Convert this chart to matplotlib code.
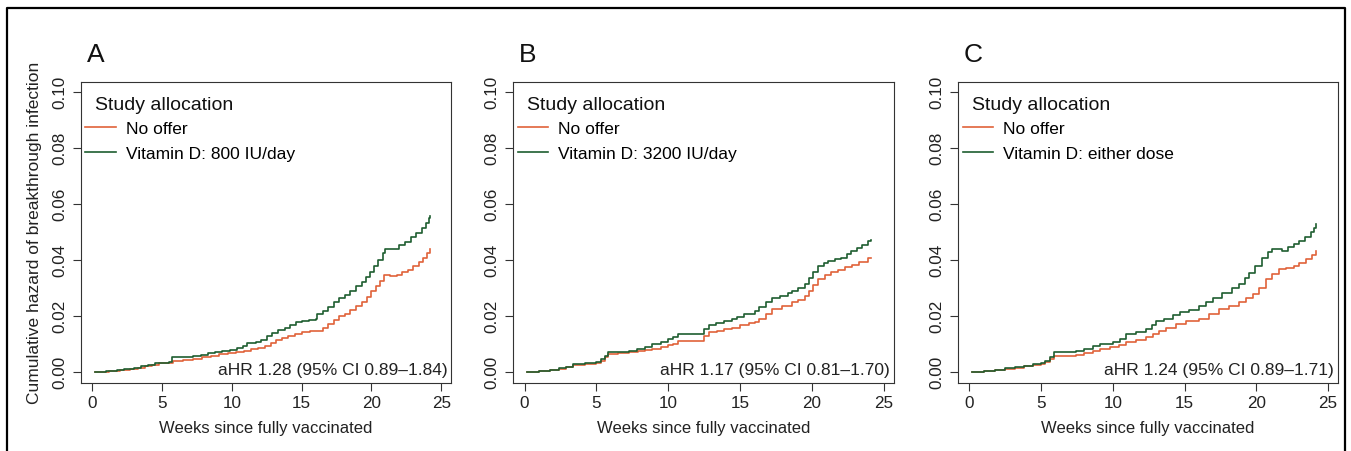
import matplotlib
matplotlib.use("Agg")
import matplotlib.pyplot as plt
from matplotlib.lines import Line2D

plt.rcParams['font.family'] = ['Liberation Sans', 'DejaVu Sans']

# panel A: 800 IU/day vs no offer (weeks, cumulative hazard)
wk_a_no = [0.2, 1.2, 2.0, 2.7, 3.3, 3.8, 4.3, 4.8, 5.3, 5.8, 6.5, 7.2, 7.9, 8.5, 9.1, 9.7, 10.3,
           10.9, 11.4, 11.9, 12.4, 12.8, 13.2, 13.6, 14.0, 14.5, 15.0, 15.6, 16.2, 16.5, 16.9,
           17.3, 17.7, 18.1, 18.5, 18.9, 19.3, 19.7, 20.0, 20.3, 20.6, 20.9, 21.3, 21.8, 22.2,
           22.6, 23.0, 23.4, 23.7, 24.0, 24.2]
ch_a_no = [0, 0.0003, 0.0006, 0.001, 0.0015, 0.0021, 0.0026, 0.003, 0.0032, 0.0037, 0.0042,
           0.0047, 0.0052, 0.0057, 0.0062, 0.0066, 0.007, 0.0075, 0.0082, 0.0086, 0.0092, 0.0102,
           0.0112, 0.012, 0.0128, 0.0136, 0.0142, 0.0146, 0.0147, 0.0158, 0.0172, 0.0185, 0.0198,
           0.0208, 0.0222, 0.0235, 0.025, 0.0268, 0.0288, 0.0305, 0.0325, 0.0345, 0.0342, 0.0345,
           0.0355, 0.0365, 0.0378, 0.0392, 0.0405, 0.0425, 0.044]
wk_a_vd = [0.2, 1.0, 1.8, 2.3, 3.0, 3.5, 4.0, 4.5, 5.0, 5.5, 5.7, 6.5, 7.2, 7.8, 8.3, 8.8, 9.3, 9.9,
           10.4, 10.8, 11.1, 11.7, 12.1, 12.5, 12.9, 13.3, 13.8, 14.2, 14.6, 15.0, 15.5, 16.0,
           16.1, 16.5, 16.9, 17.3, 17.7, 18.1, 18.5, 18.9, 19.3, 19.6, 19.9, 20.2, 20.5, 20.8,
           21.0, 21.7, 22.0, 22.4, 22.8, 23.2, 23.6, 23.9, 24.1, 24.2]
ch_a_vd = [0, 0.0002, 0.0006, 0.001, 0.0012, 0.0019, 0.0025, 0.003, 0.0032, 0.0035, 0.0052,
           0.0054, 0.0057, 0.006, 0.0066, 0.0072, 0.0076, 0.0079, 0.0084, 0.0093, 0.0103, 0.0106,
           0.0115, 0.0127, 0.0138, 0.0148, 0.0158, 0.0168, 0.0178, 0.0182, 0.0186, 0.0188, 0.0205,
           0.0218, 0.0232, 0.0248, 0.0262, 0.0275, 0.0288, 0.0305, 0.0322, 0.0338, 0.0358, 0.0378,
           0.0398, 0.0425, 0.0438, 0.044, 0.0452, 0.0465, 0.0482, 0.0495, 0.0512, 0.053, 0.0548,
           0.0555]

# panel B: 3200 IU/day vs no offer
wk_b_no = [0.2, 1.0, 1.8, 2.4, 2.9, 3.4, 4.2, 5.0, 5.3, 5.6, 5.8, 6.5, 7.3, 7.9, 8.4, 8.9, 9.5,
           10.0, 10.3, 10.7, 12.1, 12.5, 12.8, 13.4, 13.9, 14.4, 15.0, 15.6, 16.0, 16.3, 16.8,
           17.2, 17.9, 18.6, 19.0, 19.5, 19.8, 20.1, 20.4, 20.9, 21.3, 21.8, 22.3, 22.8, 23.3,
           23.9, 24.1]
ch_b_no = [0, 0.0003, 0.0006, 0.001, 0.0016, 0.0024, 0.0027, 0.0031, 0.004, 0.0053, 0.0063,
           0.0066, 0.0069, 0.0074, 0.0078, 0.0081, 0.0089, 0.0095, 0.0099, 0.011, 0.011, 0.0128,
           0.0141, 0.0147, 0.0152, 0.0158, 0.0168, 0.0176, 0.0178, 0.0188, 0.0208, 0.0224, 0.0236,
           0.0248, 0.0258, 0.0271, 0.029, 0.031, 0.0331, 0.0345, 0.0355, 0.0362, 0.0373, 0.0382,
           0.0392, 0.0405, 0.0408]
wk_b_vd = [0.2, 1.0, 1.8, 2.4, 2.9, 3.4, 4.2, 5.0, 5.3, 5.6, 5.8, 6.5, 7.3, 7.8, 8.4, 8.9, 9.5,
           10.0, 10.3, 10.7, 12.1, 12.5, 12.8, 13.3, 13.9, 14.4, 14.8, 15.3, 15.7, 16.0, 16.3,
           16.8, 17.2, 17.8, 18.3, 18.6, 19.0, 19.5, 19.8, 20.1, 20.4, 20.8, 21.1, 21.6, 22.0,
           22.4, 22.7, 23.1, 23.5, 23.9, 24.1]
ch_b_vd = [0, 0.0003, 0.0007, 0.0012, 0.0018, 0.0028, 0.003, 0.0034, 0.0045, 0.0058, 0.0069,
           0.0071, 0.0075, 0.0082, 0.009, 0.0099, 0.0108, 0.0116, 0.0123, 0.0135, 0.0135, 0.0152,
           0.0168, 0.0175, 0.0181, 0.0188, 0.0196, 0.0206, 0.0208, 0.0218, 0.023, 0.0248, 0.0265,
           0.0272, 0.028, 0.0289, 0.03, 0.0313, 0.0335, 0.0358, 0.0378, 0.039, 0.0396, 0.0402,
           0.0408, 0.0422, 0.0432, 0.0442, 0.0452, 0.0467, 0.047]

# panel C: either dose vs no offer
wk_c_no = [0.2, 1.0, 1.8, 2.5, 3.2, 3.8, 4.4, 5.0, 5.3, 5.6, 5.9, 6.7, 7.4, 8.0, 8.6, 9.1, 9.8,
           10.4, 10.9, 11.6, 12.3, 12.8, 13.2, 13.7, 14.4, 15.1, 16.0, 16.7, 17.4, 18.1, 18.8,
           19.3, 19.8, 20.2, 20.7, 21.1, 21.6, 22.1, 22.6, 23.0, 23.5, 23.9, 24.2]
ch_c_no = [0, 0.0003, 0.0006, 0.001, 0.0015, 0.0019, 0.0024, 0.0029, 0.0035, 0.0046, 0.0057,
           0.0058, 0.006, 0.0067, 0.0074, 0.008, 0.0088, 0.0097, 0.0105, 0.0114, 0.0123, 0.0135,
           0.0146, 0.0158, 0.017, 0.0182, 0.0188, 0.0206, 0.0224, 0.0236, 0.0248, 0.0262, 0.0277,
           0.03, 0.033, 0.035, 0.0366, 0.0372, 0.0378, 0.0388, 0.0402, 0.0418, 0.0432]
wk_c_vd = [0.2, 1.0, 1.8, 2.5, 3.2, 3.8, 4.4, 5.0, 5.3, 5.6, 5.9, 6.7, 7.4, 8.0, 8.6, 9.1, 10.0,
           10.5, 10.9, 11.6, 12.3, 12.7, 13.0, 13.6, 14.2, 14.7, 15.3, 16.0, 16.5, 17.0, 17.6,
           18.3, 18.8, 19.2, 19.5, 19.9, 20.4, 20.8, 21.1, 21.8, 22.2, 22.6, 23.0, 23.4, 23.8,
           24.0, 24.2]
ch_c_vd = [0, 0.0003, 0.0007, 0.0012, 0.0017, 0.0021, 0.0027, 0.0033, 0.0039, 0.0052, 0.0069,
           0.0071, 0.0075, 0.0083, 0.0092, 0.0099, 0.0105, 0.0118, 0.0135, 0.0142, 0.0152, 0.0168,
           0.0182, 0.019, 0.0202, 0.0212, 0.022, 0.0236, 0.025, 0.0265, 0.0282, 0.0301, 0.0313,
           0.0335, 0.0354, 0.0378, 0.0408, 0.0428, 0.0438, 0.0432, 0.0445, 0.0456, 0.0468, 0.048,
           0.0498, 0.0512, 0.0527]

panel_letters = ['A', 'B', 'C']
vd_labels = ['Vitamin D: 800 IU/day', 'Vitamin D: 3200 IU/day', 'Vitamin D: either dose']
ahr_texts = ['aHR 1.28 (95% CI 0.89\u20131.84)', 'aHR 1.17 (95% CI 0.81\u20131.70)',
             'aHR 1.24 (95% CI 0.89\u20131.71)']
x_ticks = [0, 5, 10, 15, 20, 25]
y_ticks = [0.00, 0.02, 0.04, 0.06, 0.08, 0.10]

col_no = '#e0623a'
col_vd = '#1e5e30'

W, H = 1351, 452
fig = plt.figure(figsize=(W / 100, H / 100), dpi=100)

# pixel boxes of the three panels (left, right)
boxes = [(81, 451), (513, 894), (958, 1338)]
top, bottom = 83, 384

series = [(wk_a_no, ch_a_no, wk_a_vd, ch_a_vd),
          (wk_b_no, ch_b_no, wk_b_vd, ch_b_vd),
          (wk_c_no, ch_c_no, wk_c_vd, ch_c_vd)]

for i, (l, r) in enumerate(boxes):
    ax = fig.add_axes([l / W, 1 - bottom / H, (r - l) / W, (bottom - top) / H])
    wn, cn, wv, cv = series[i]
    ln1, = ax.plot(wn, cn, drawstyle='steps-post', color=col_no, lw=1.2)
    ln2, = ax.plot(wv, cv, drawstyle='steps-post', color=col_vd, lw=1.2)
    ax.set_xlim(-0.8, 25.7)
    ax.set_ylim(-0.004, 0.1035)
    ax.set_xticks(x_ticks)
    ax.set_yticks(y_ticks)
    ax.set_yticklabels(['%.2f' % v for v in y_ticks])
    ax.tick_params(direction='out', length=5.5, width=0.8, color='#333333',
                   labelsize=12.3, labelcolor='#222222')
    ax.tick_params(axis='x', pad=3)
    ax.tick_params(axis='y', pad=4)
    for lbl in ax.get_yticklabels():
        lbl.set_rotation(90)
        lbl.set_va('center')
    for s in ax.spines.values():
        s.set_color('#333333')
        s.set_linewidth(0.8)
    ax.set_xlabel('Weeks since fully vaccinated', fontsize=12, color='#222222', labelpad=7)

    ax.text(0.038, 0.925, 'Study allocation', transform=ax.transAxes, fontsize=14,
            ha='left', va='center', color='#111111')
    ax.legend([ln1, ln2], ['No offer', vd_labels[i]], loc='upper left',
              bbox_to_anchor=(0.012, 0.87), frameon=False, fontsize=12.5,
              handlelength=1.75, handletextpad=0.6, labelspacing=0.55,
              borderpad=0, borderaxespad=0)
    ax.text(0.99, 0.045, ahr_texts[i], transform=ax.transAxes, fontsize=12.5,
            ha='right', va='center', color='#222222')

    fig.text((l + 6) / W, 1 - 62 / H, panel_letters[i], fontsize=19, ha='left',
             va='baseline', color='#111111')

fig.text(35 / W, 1 - 233 / H, 'Cumulative hazard of breakthrough infection', rotation=90,
         ha='center', va='center', fontsize=12.5, color='#222222')

# outer frame (left, top, right)
fig.add_artist(Line2D([7 / W, 7 / W, 1345 / W, 1345 / W], [0, 1 - 9 / H, 1 - 9 / H, 0],
                      transform=fig.transFigure, color='black', lw=1.6))

fig.savefig('out.png', dpi=100)
